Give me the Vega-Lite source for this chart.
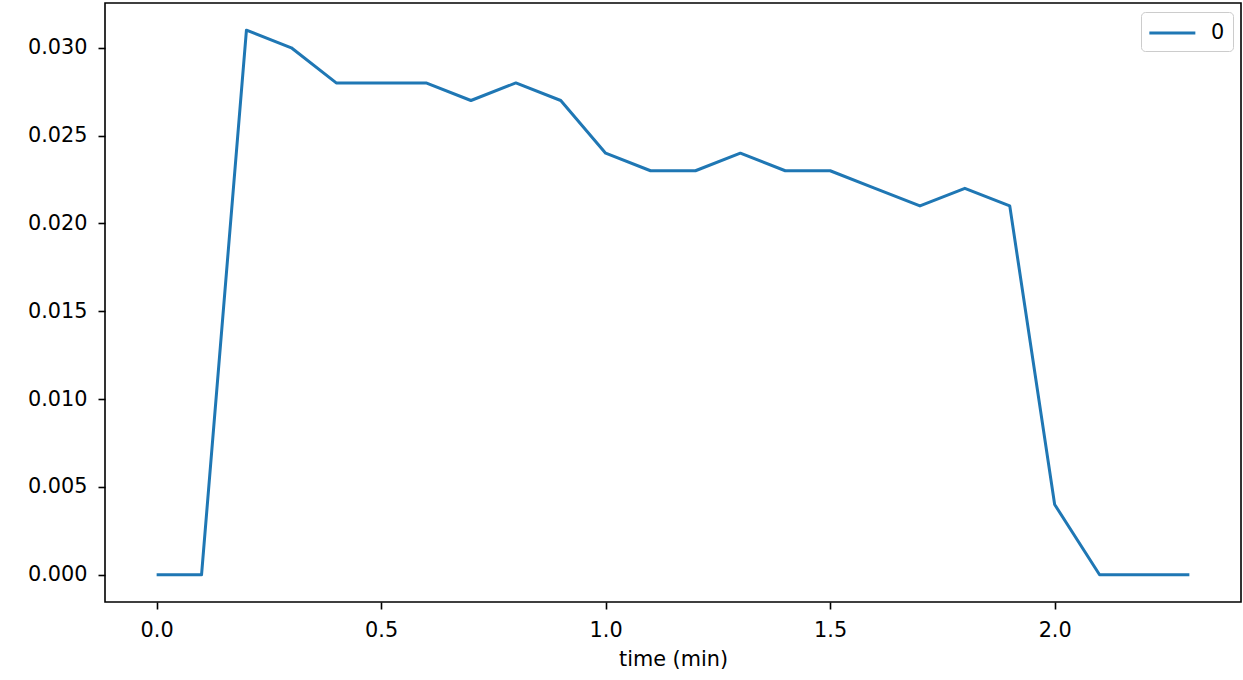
{
  "$schema": "https://vega.github.io/schema/vega-lite/v6.json",
  "width": 1136,
  "height": 599,
  "autosize": {"type": "none"},
  "padding": {"left": 105, "top": 3, "right": 2, "bottom": 78},
  "background": "white",
  "config": {
    "font": "DejaVu Sans",
    "view": {"stroke": "black", "strokeWidth": 1.6},
    "axis": {
      "grid": false,
      "domain": false,
      "tickColor": "black",
      "tickWidth": 1.6,
      "tickSize": 7,
      "labelFontSize": 20.8,
      "labelColor": "black",
      "labelFont": "DejaVu Sans",
      "labelPadding": 11,
      "titleFontSize": 20.8,
      "titleFontWeight": "normal",
      "titleColor": "black",
      "titleFont": "DejaVu Sans"
    }
  },
  "data": {
    "values": [
      {"time": 0.0, "value": 0.0, "series": "0"},
      {"time": 0.1, "value": 0.0, "series": "0"},
      {"time": 0.2, "value": 0.031, "series": "0"},
      {"time": 0.3, "value": 0.030, "series": "0"},
      {"time": 0.4, "value": 0.028, "series": "0"},
      {"time": 0.5, "value": 0.028, "series": "0"},
      {"time": 0.6, "value": 0.028, "series": "0"},
      {"time": 0.7, "value": 0.027, "series": "0"},
      {"time": 0.8, "value": 0.028, "series": "0"},
      {"time": 0.9, "value": 0.027, "series": "0"},
      {"time": 1.0, "value": 0.024, "series": "0"},
      {"time": 1.1, "value": 0.023, "series": "0"},
      {"time": 1.2, "value": 0.023, "series": "0"},
      {"time": 1.3, "value": 0.024, "series": "0"},
      {"time": 1.4, "value": 0.023, "series": "0"},
      {"time": 1.5, "value": 0.023, "series": "0"},
      {"time": 1.6, "value": 0.022, "series": "0"},
      {"time": 1.7, "value": 0.021, "series": "0"},
      {"time": 1.8, "value": 0.022, "series": "0"},
      {"time": 1.9, "value": 0.021, "series": "0"},
      {"time": 2.0, "value": 0.004, "series": "0"},
      {"time": 2.1, "value": 0.0, "series": "0"},
      {"time": 2.2, "value": 0.0, "series": "0"},
      {"time": 2.3, "value": 0.0, "series": "0"}
    ]
  },
  "mark": {"type": "line", "strokeWidth": 3, "strokeJoin": "round", "clip": true},
  "encoding": {
    "x": {
      "field": "time",
      "type": "quantitative",
      "title": "time (min)",
      "scale": {"domain": [-0.115, 2.415], "nice": false, "zero": false},
      "axis": {"values": [0, 0.5, 1.0, 1.5, 2.0], "format": ".1f", "titlePadding": 10}
    },
    "y": {
      "field": "value",
      "type": "quantitative",
      "title": null,
      "scale": {"domain": [-0.00155, 0.03255], "nice": false, "zero": false},
      "axis": {"values": [0, 0.005, 0.01, 0.015, 0.02, 0.025, 0.03], "format": ".3f"}
    },
    "color": {
      "field": "series",
      "type": "nominal",
      "scale": {"range": ["#1f77b4"]},
      "legend": {
        "title": null,
        "orient": "none",
        "legendX": 1036,
        "legendY": 9,
        "symbolType": "M-1.1,0H2.9",
        "symbolSize": 529,
        "symbolStrokeWidth": 3,
        "labelFontSize": 20.8,
        "labelColor": "black",
        "labelFont": "DejaVu Sans",
        "labelOffset": 36,
        "strokeColor": "#cccccc",
        "cornerRadius": 4,
        "padding": 8,
        "fillColor": "white"
      }
    }
  }
}
